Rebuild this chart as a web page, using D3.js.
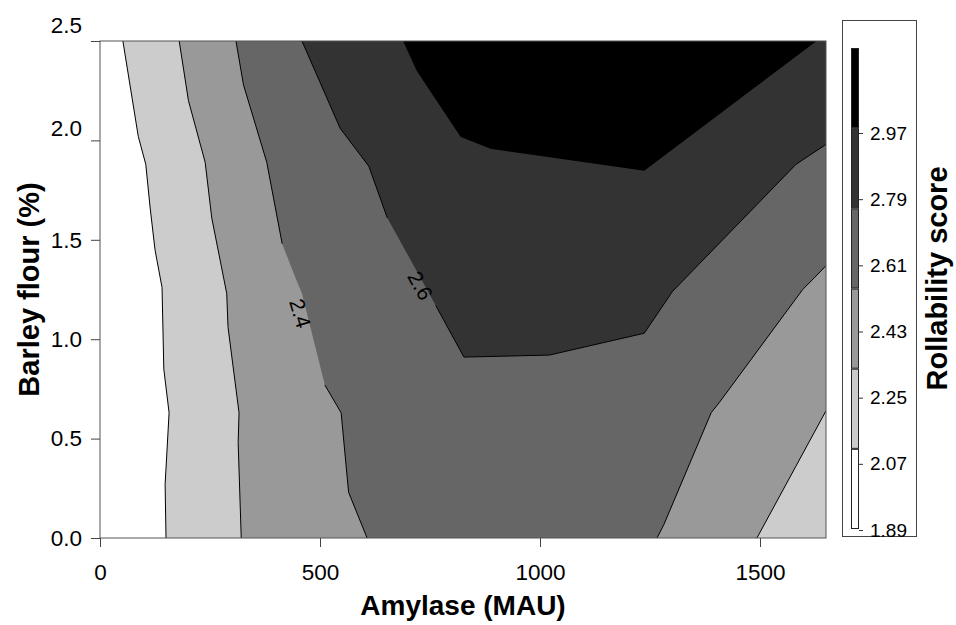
<!DOCTYPE html>
<html>
<head>
<meta charset="utf-8">
<script src="https://cdn.jsdelivr.net/npm/d3@7"></script>
<style>
  body { margin: 0; background: #fff; }
  svg { display: block; font-family: "Liberation Sans", Arial, sans-serif; }
</style>
</head>
<body>
<svg id="chart" width="956" height="625"></svg>
<script>
// contour lines: [amylase (MAU), barley flour (%)]
const contour20  = [[52, 2.5], [87, 2.02], [104, 1.88], [114, 1.66], [125, 1.45], [141, 1.26], [145, 0.85], [157, 0.63], [148, 0.27], [150, 0]];
const contour22a = [[180, 2.5], [201, 2.2], [239, 1.89], [254, 1.61], [288, 1.23], [291, 1.06], [316, 0.63], [314, 0.48], [321, 0]];
const contour22b = [[1493, 0], [1650, 0.64]];
const contour24a = [[309, 2.5], [326, 2.28], [379, 1.89], [414, 1.48], [444, 1.31], [459, 1.23], [511, 0.77], [548, 0.63], [565, 0.23], [607, 0]];
const contour24b = [[1266, 0], [1282, 0.07], [1389, 0.63], [1407, 0.68], [1597, 1.25], [1624, 1.31], [1650, 1.37]];
const contour26  = [[459, 2.5], [546, 2.06], [611, 1.87], [653, 1.61], [763, 1.17], [827, 0.91], [1021, 0.92], [1237, 1.03], [1301, 1.24], [1582, 1.88], [1650, 1.98]];
const contour28  = [[690, 2.5], [721, 2.35], [820, 2.02], [888, 1.96], [1237, 1.85], [1627, 2.5]];

// inline labels: text, contour, unstroked stretch (point indices) and position
const labelText = ['2.4', '2.6'];
const labelLine = [contour24a, contour26];
const labelGap  = [[3, 6], [3, 4]];
const labelPos  = [[455, 1.13], [728, 1.27]];

// colour bar
const bandColors = ['#000000', '#333333', '#666666', '#999999', '#cccccc', '#ffffff'];
const barTicks = [1.89, 2.07, 2.25, 2.43, 2.61, 2.79, 2.97];

const xTicks = [0, 500, 1000, 1500];
const yTicks = [0, 0.5, 1.0, 1.5, 2.0, 2.5];
const xMax = 1650;
const yMax = 2.5;

const svg = d3.select('#chart');

const x = d3.scaleLinear().domain([0, xMax]).range([100, 826]);
const y = d3.scaleLinear().domain([0, yMax]).range([538, 41]);

const line = d3.line().x(d => x(d[0])).y(d => y(d[1]));

svg.append('clipPath').attr('id', 'plot-clip')
    .append('rect')
    .attr('x', x(0)).attr('y', y(yMax))
    .attr('width', x(xMax) - x(0)).attr('height', y(0) - y(yMax));

const plot = svg.append('g').attr('clip-path', 'url(#plot-clip)');

// filled bands, painted from low to high
const regions = [
    { color: '#ffffff', pts: [[0, 0], [xMax, 0], [xMax, yMax], [0, yMax]] },
    { color: '#cccccc', pts: [...contour20, [xMax, 0], [xMax, yMax]] },
    { color: '#999999', pts: [...contour22a, ...contour22b, [xMax, yMax]] },
    { color: '#666666', pts: [...contour24a, ...contour24b, [xMax, yMax]] },
    { color: '#333333', pts: [...contour26, [xMax, yMax]] },
    { color: '#000000', pts: contour28 }
];

plot.selectAll('path.region')
    .data(regions)
    .enter()
    .append('path')
    .attr('class', 'region')
    .attr('d', d => line(d.pts) + 'Z')
    .attr('fill', d => d.color)
    .attr('stroke', 'none');

// contour strokes, with gaps where the labels sit
const strokes = [contour20, contour22a, contour22b, contour24b, contour28];
labelLine.forEach((pts, i) => {
    strokes.push(pts.slice(0, labelGap[i][0] + 1));
    strokes.push(pts.slice(labelGap[i][1]));
});

plot.selectAll('path.contour')
    .data(strokes)
    .enter()
    .append('path')
    .attr('class', 'contour')
    .attr('d', line)
    .attr('fill', 'none')
    .attr('stroke', '#000')
    .attr('stroke-width', 1);

labelText.forEach((t, i) => {
    const a = labelLine[i][labelGap[i][0]];
    const b = labelLine[i][labelGap[i][1]];
    const angle = Math.atan2(y(b[1]) - y(a[1]), x(b[0]) - x(a[0])) * 180 / Math.PI;
    plot.append('text')
        .attr('transform', `translate(${x(labelPos[i][0])},${y(labelPos[i][1])}) rotate(${angle})`)
        .attr('text-anchor', 'middle')
        .attr('dy', '0.35em')
        .style('font-size', '21px')
        .style('fill', '#000')
        .text(t);
});

// frame
svg.append('rect')
    .attr('x', x(0)).attr('y', y(yMax))
    .attr('width', x(xMax) - x(0)).attr('height', y(0) - y(yMax))
    .attr('fill', 'none')
    .attr('stroke', '#555')
    .attr('stroke-width', 1);

// axes
const xAxis = svg.append('g')
    .attr('transform', `translate(0,${y(0)})`)
    .call(d3.axisBottom(x).tickValues(xTicks).tickSize(9).tickPadding(17).tickFormat(d3.format('d')));

const yAxis = svg.append('g')
    .attr('transform', `translate(${x(0)},0)`)
    .call(d3.axisLeft(y).tickValues(yTicks).tickSize(9).tickPadding(9).tickFormat(d3.format('.1f')));

[xAxis, yAxis].forEach(g => {
    g.select('.domain').remove();
    g.selectAll('line').attr('stroke', '#444');
    g.selectAll('text')
        .style('font-size', '22.5px')
        .style('font-family', '"Liberation Sans", Arial, sans-serif')
        .style('fill', '#000');
});

// the two top labels sit a little above their ticks in the original
yAxis.selectAll('.tick text')
    .filter(d => d >= 2)
    .attr('y', d => d === yMax ? -16 : -12);

svg.append('text')
    .attr('x', (x(0) + x(xMax)) / 2)
    .attr('y', 615)
    .attr('text-anchor', 'middle')
    .style('font-size', '28px')
    .style('font-weight', 'bold')
    .text('Amylase (MAU)');

svg.append('text')
    .attr('transform', `translate(39,${(y(0) + y(yMax)) / 2}) rotate(-90)`)
    .attr('text-anchor', 'middle')
    .style('font-size', '29px')
    .style('font-weight', 'bold')
    .text('Barley flour (%)');

// colour bar
const box = { x: 842.5, y: 20.5, w: 74, h: 516 };
svg.append('rect')
    .attr('x', box.x).attr('y', box.y)
    .attr('width', box.w).attr('height', box.h)
    .attr('fill', '#fff')
    .attr('stroke', '#444')
    .attr('stroke-width', 1);

const band = d3.scaleBand().domain(d3.range(bandColors.length)).range([48, 529]);

svg.selectAll('rect.band')
    .data(bandColors)
    .enter()
    .append('rect')
    .attr('class', 'band')
    .attr('x', 851.5)
    .attr('y', (d, i) => band(i) + 0.5)
    .attr('width', 7)
    .attr('height', band.bandwidth() - 1)
    .attr('fill', d => d)
    .attr('stroke', '#222')
    .attr('stroke-width', 1);

const barScale = d3.scaleLinear().domain([1.89, 2.97]).range([530, 133]);

const barAxis = svg.append('g')
    .attr('transform', 'translate(859,0)')
    .call(d3.axisRight(barScale).tickValues(barTicks).tickSize(4).tickPadding(7).tickFormat(d3.format('.2f')));
barAxis.select('.domain').remove();
barAxis.selectAll('line').attr('stroke', '#333');
barAxis.selectAll('text')
    .style('font-size', '19px')
    .style('font-family', '"Liberation Sans", Arial, sans-serif')
    .style('fill', '#000');

svg.append('text')
    .attr('transform', `translate(947,${box.y + box.h / 2}) rotate(-90)`)
    .attr('text-anchor', 'middle')
    .style('font-size', '29px')
    .style('font-weight', 'bold')
    .text('Rollability score');
</script>
</body>
</html>
